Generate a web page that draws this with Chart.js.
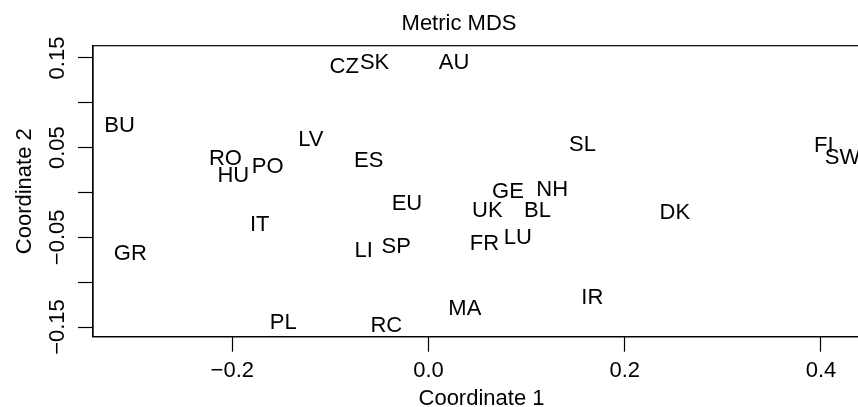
<!DOCTYPE html>
<html>
<head>
<meta charset="utf-8">
<script src="https://cdn.jsdelivr.net/npm/chart.js@4"></script>
<style>
  html, body { margin: 0; padding: 0; background: #fff; overflow: hidden; }
  canvas { display: block; }
</style>
</head>
<body>
<canvas id="mds" width="918" height="412" style="width:918px;height:412px"></canvas>
<script>
// country codes and their two MDS coordinates
const countries = ['BU','GR','RO','HU','PO','IT','LV','ES','EU','LI','SP','PL','RC','CZ','SK','AU',
                   'GE','NH','UK','BL','DK','FR','LU','IR','MA','SL','FI','SW'];
const coord1 = [-0.315,-0.304,-0.207,-0.199,-0.164,-0.172,-0.120,-0.061,-0.022,-0.066,-0.033,-0.148,-0.043,-0.086,-0.055,0.026,
                0.081,0.126,0.060,0.111,0.251,0.057,0.091,0.167,0.037,0.157,0.403,0.422];
const coord2 = [0.076,-0.066,0.039,0.021,0.030,-0.034,0.061,0.037,-0.011,-0.063,-0.059,-0.143,-0.147,0.142,0.146,0.147,
                0.003,0.005,-0.019,-0.018,-0.021,-0.055,-0.049,-0.116,-0.128,0.055,0.054,0.041];

const xTicks = [-0.2, 0, 0.2, 0.4];
const xTickLabels = ['\u22120.2', '0.0', '0.2', '0.4'];
const yTicks = [-0.15, -0.1, -0.05, 0, 0.05, 0.1, 0.15];
const yTickLabels = ['\u22120.15', '', '\u22120.05', '', '0.05', '', '0.15'];

const FONT = 'Liberation Sans, Arial, Helvetica, sans-serif';
const SIZE = 22;
Chart.defaults.font.family = FONT;
Chart.defaults.color = '#000';

// text labels instead of point symbols
const textLabels = {
  id: 'textLabels',
  afterDatasetsDraw(chart) {
    const ctx = chart.ctx;
    const meta = chart.getDatasetMeta(0);
    ctx.save();
    ctx.font = SIZE + 'px ' + FONT;
    ctx.fillStyle = '#000';
    ctx.textAlign = 'center';
    ctx.textBaseline = 'alphabetic';
    meta.data.forEach((pt, i) => {
      ctx.fillText(countries[i], pt.x, pt.y + 0.358 * SIZE);
    });
    ctx.restore();
  }
};

// box round the plot + rotated y tick labels (R style)
const frame = {
  id: 'frame',
  afterDraw(chart) {
    const ctx = chart.ctx;
    const a = chart.chartArea;
    ctx.save();
    ctx.strokeStyle = '#000';
    ctx.lineWidth = 1.2;
    ctx.strokeRect(a.left, a.top, a.right - a.left, a.bottom - a.top);

    const ys = chart.scales.y;
    ctx.font = SIZE + 'px ' + FONT;
    ctx.fillStyle = '#000';
    ctx.textAlign = 'center';
    ctx.textBaseline = 'alphabetic';
    yTicks.forEach((v, i) => {
      if (!yTickLabels[i]) return;
      const py = ys.getPixelForValue(v);
      ctx.save();
      ctx.translate(ys.right - 29.5, py);
      ctx.rotate(-Math.PI / 2);
      ctx.fillText(yTickLabels[i], 0, 0);
      ctx.restore();
    });
    ctx.restore();
  }
};

new Chart(document.getElementById('mds').getContext('2d'), {
  type: 'scatter',
  data: {
    datasets: [{
      data: coord1.map((x, i) => ({ x: x, y: coord2[i] })),
      pointRadius: 0,
      pointHoverRadius: 0
    }]
  },
  options: {
    responsive: false,
    animation: false,
    layout: { padding: 0 },
    plugins: {
      legend: { display: false },
      tooltip: { enabled: false },
      title: {
        display: true,
        text: 'Metric MDS',
        color: '#000',
        font: { size: SIZE, weight: 'normal' },
        padding: { top: 11, bottom: 8.3 }
      }
    },
    scales: {
      x: {
        type: 'linear',
        min: -0.342,
        max: 0.45,
        afterBuildTicks: s => { s.ticks = xTicks.map(v => ({ value: v })); },
        afterFit: s => { s.height = 75.3; },
        ticks: {
          autoSkip: false,
          maxRotation: 0,
          padding: 6,
          font: { size: SIZE },
          color: '#000',
          callback: v => xTickLabels[xTicks.indexOf(v)]
        },
        grid: { drawOnChartArea: false, drawTicks: true, tickLength: 15, tickColor: '#000', tickWidth: 1.2 },
        border: { display: true, color: '#000', width: 1.2 },
        title: { display: true, text: 'Coordinate 1', color: '#000', font: { size: SIZE }, padding: { top: 0, bottom: 0 } }
      },
      y: {
        type: 'linear',
        min: -0.1608,
        max: 0.1637,
        afterBuildTicks: s => { s.ticks = yTicks.map(v => ({ value: v })); },
        afterFit: s => { s.width = 93; },
        ticks: { display: false },
        grid: { drawOnChartArea: false, drawTicks: true, tickLength: 15, tickColor: '#000', tickWidth: 1.2 },
        border: { display: true, color: '#000', width: 1.2 },
        title: { display: true, text: 'Coordinate 2', color: '#000', font: { size: SIZE }, padding: { top: 11.5, bottom: 0 } }
      },
      // empty right margin (plot continues past the window edge)
      yRight: {
        type: 'linear',
        position: 'right',
        afterFit: s => { s.width = 48; },
        ticks: { display: false },
        grid: { display: false },
        border: { display: false }
      }
    }
  },
  plugins: [textLabels, frame]
});
</script>
</body>
</html>
